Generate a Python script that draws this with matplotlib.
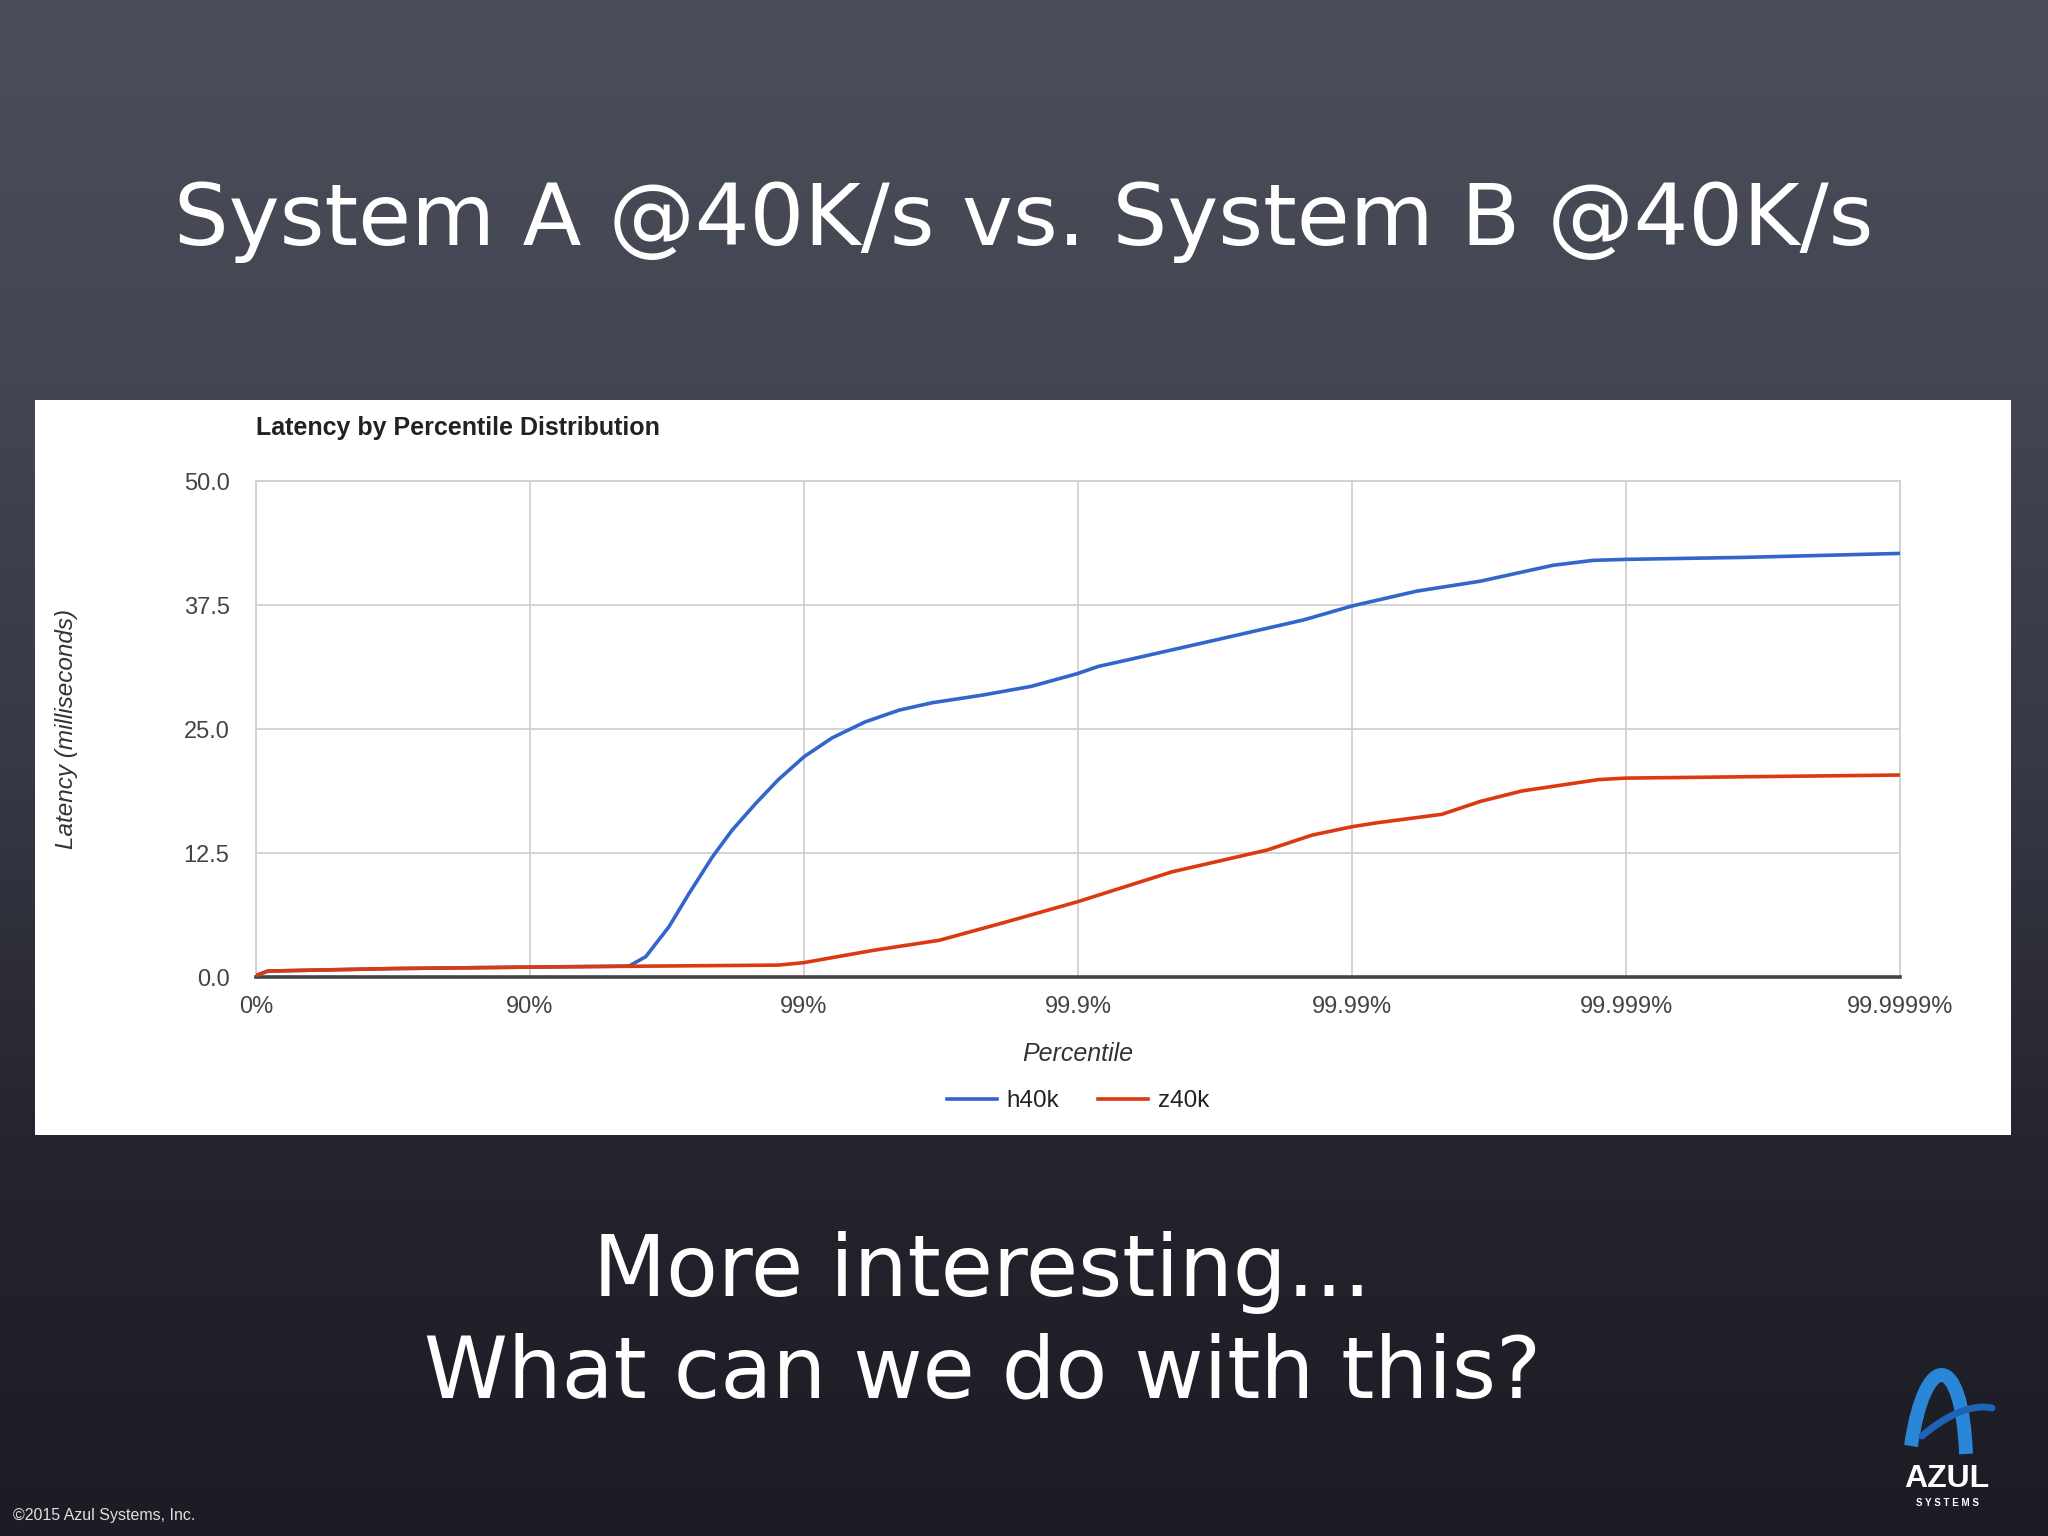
import numpy as np
import matplotlib
matplotlib.use("Agg")
import matplotlib.pyplot as plt
from matplotlib.colors import LinearSegmentedColormap
from matplotlib.patches import Rectangle, PathPatch
from matplotlib.path import Path
from matplotlib.lines import Line2D

# latency by percentile
h40k_pct = [0, 9.6, 68.4, 90.0, 95.65, 96.22, 96.89, 97.37, 97.84, 98.17,
            98.50, 98.76, 99.0, 99.21, 99.40, 99.55, 99.66, 99.775, 99.852,
            99.9, 99.9155, 99.935, 99.970, 99.985, 99.99, 99.9942, 99.9966,
            99.99815, 99.99868, 99.999, 99.99963, 99.9999]
h40k_ms = [0.15, 0.6, 0.85, 1.0, 1.1, 2.05, 5.07, 8.4, 12.1, 14.8,
           17.5, 19.9, 22.2, 24.1, 25.7, 26.9, 27.65, 28.4, 29.3,
           30.6, 31.3, 32.0, 34.1, 36.0, 37.4, 38.9, 39.9,
           41.5, 42.0, 42.1, 42.3, 42.7]

z40k_pct = [0, 9.6, 68.4, 90.0, 96.46, 98.76, 99.0, 99.445, 99.679, 99.82,
            99.9, 99.919, 99.9546, 99.9796, 99.986, 99.99, 99.99191, 99.9953,
            99.9966, 99.9976, 99.99874, 99.999, 99.9999]
z40k_ms = [0.15, 0.6, 0.85, 1.0, 1.1, 1.2, 1.45, 2.7, 3.7, 5.6,
           7.6, 8.4, 10.6, 12.8, 14.3, 15.15, 15.55, 16.4,
           17.7, 18.75, 19.9, 20.05, 20.36]

x_ticks = [0, 90, 99, 99.9, 99.99, 99.999, 99.9999]
x_labels = ["0%", "90%", "99%", "99.9%", "99.99%", "99.999%", "99.9999%"]
y_ticks = [0.0, 12.5, 25.0, 37.5, 50.0]

W, H = 2048, 1536
BLUE = "#3366cc"
RED = "#dc3912"


def nines(p):
    p = np.asarray(p, dtype=float)
    return -np.log10(np.clip(1 - p / 100.0, 1e-12, None))


def from_nines(x):
    return 100.0 * (1 - 10.0 ** (-np.asarray(x, dtype=float)))


def fx(px):
    return px / W


def fy(py):
    return 1 - py / H


fig = plt.figure(figsize=(W / 100, H / 100), dpi=100)

# slide background
bg = fig.add_axes([0, 0, 1, 1], zorder=-10)
slate = LinearSegmentedColormap.from_list(
    "slate", ["#4a4e5a", "#434651", "#363843", "#24242e", "#1c1c25"])
grad = np.linspace(0, 1, 256).reshape(-1, 1)
bg.imshow(grad, cmap=slate, aspect="auto", extent=[0, W, H, 0])
bg.set_xlim(0, W)
bg.set_ylim(H, 0)
bg.axis("off")

# white chart panel
bg.add_patch(Rectangle((35, 400), 1976, 735, facecolor="white", edgecolor="none"))

# azul logo
arch = Path([(1911, 1446), (1925, 1350), (1962, 1350), (1966, 1454)],
            [Path.MOVETO, Path.CURVE4, Path.CURVE4, Path.CURVE4])
bg.add_patch(PathPatch(arch, facecolor="none", edgecolor="#2a86d6", lw=10,
                       capstyle="butt"))
swoosh = Path([(1922, 1436), (1950, 1412), (1975, 1404), (1992, 1408)],
              [Path.MOVETO, Path.CURVE4, Path.CURVE4, Path.CURVE4])
bg.add_patch(PathPatch(swoosh, facecolor="none", edgecolor="#1f63b8", lw=5,
                       capstyle="round"))
bg.text(1947, 1479, "AZUL", color="white", fontsize=23, fontweight="bold",
        ha="center", va="center", family="Liberation Sans")
bg.text(1947, 1503, "S Y S T E M S", color="white", fontsize=7,
        fontweight="bold", ha="center", va="center", family="Liberation Sans")

# slide texts
fig.text(0.5, fy(245), "System A @40K/s vs. System B @40K/s", color="white",
         fontsize=62, ha="center", va="baseline", family="DejaVu Sans")
fig.text(fx(982), fy(1296), "More interesting\u2026", color="white",
         fontsize=61, ha="center", va="baseline", family="DejaVu Sans")
fig.text(fx(982), fy(1397), "What can we do with this?", color="white",
         fontsize=61, ha="center", va="baseline", family="DejaVu Sans")
fig.text(fx(13), fy(1520), "\u00a92015 Azul Systems, Inc.", color="#e0e0e0",
         fontsize=11.5, ha="left", va="baseline", family="Liberation Sans")

# chart
left, right, top, bottom = 256, 1900, 481, 977
ax = fig.add_axes([fx(left), fy(bottom), fx(right - left), (bottom - top) / H])
ax.set_facecolor("white")
ax.set_xscale("function", functions=(nines, from_nines))

ax.plot(h40k_pct, h40k_ms, color=BLUE, lw=2.6, label="h40k", zorder=3)
ax.plot(z40k_pct, z40k_ms, color=RED, lw=2.6, label="z40k", zorder=4)

ax.set_xlim(0, 99.9999)
ax.set_ylim(0, 50)
ax.set_xticks(x_ticks)
ax.set_xticklabels(x_labels)
ax.xaxis.set_minor_locator(matplotlib.ticker.NullLocator())
ax.set_yticks(y_ticks)
ax.set_yticklabels([f"{v:.1f}" for v in y_ticks])
ax.grid(True, color="#d0d0d0", lw=1.3)
ax.set_axisbelow(True)
for side in ["top", "right", "left"]:
    ax.spines[side].set_color("#d0d0d0")
    ax.spines[side].set_linewidth(1.3)
ax.spines["bottom"].set_color("#444444")
ax.spines["bottom"].set_linewidth(2.6)

ax.tick_params(length=0, labelsize=17, labelcolor="#444444")
ax.tick_params(axis="y", pad=19)
ax.tick_params(axis="x", pad=14)
for lab in ax.get_xticklabels() + ax.get_yticklabels():
    lab.set_family("Liberation Sans")

ax.set_ylabel("Latency (milliseconds)", fontsize=17.5, style="italic",
              color="#333333", family="Liberation Sans")
ax.yaxis.set_label_coords((78 - left) / (right - left), 0.5)
ax.set_xlabel("Percentile", fontsize=18, style="italic", color="#333333",
              family="Liberation Sans")
ax.xaxis.set_label_coords(0.5, (bottom - 1042) / (bottom - top))

fig.text(fx(256), fy(428), "Latency by Percentile Distribution", fontsize=18,
         fontweight="bold", color="#222222", ha="left", va="center",
         family="Liberation Sans")

handles = [Line2D([], [], color=BLUE, lw=2.6), Line2D([], [], color=RED, lw=2.6)]
leg = fig.legend(handles, ["h40k", "z40k"], loc="center",
                 bbox_to_anchor=(fx(1078), fy(1101)), ncol=2, frameon=False,
                 handlelength=2.05, handletextpad=0.4, columnspacing=1.6,
                 prop={"family": "Liberation Sans", "size": 17.5})
for t in leg.get_texts():
    t.set_color("#222222")

fig.savefig("out.png", dpi=100)
